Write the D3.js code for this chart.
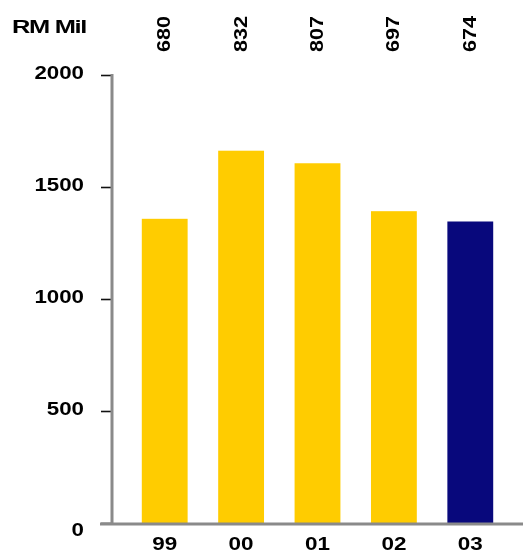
<!DOCTYPE html>
<html>
<head>
<meta charset="utf-8">
<script src="https://cdn.jsdelivr.net/npm/d3@7/dist/d3.min.js"></script>
<style>
  html, body { margin: 0; padding: 0; background: #fff; }
  svg { display: block; }
  text { font-family: "Liberation Sans", Arial, Helvetica, sans-serif; font-weight: bold; fill: #000; }
</style>
</head>
<body>
<svg id="chart" width="523" height="556"></svg>
<script>
// Years on the category axis
const years = ["99", "00", "01", "02", "03"];
// Bar heights (RM Mil)
const revenue = [1358, 1662, 1606, 1392, 1346];
// Figures printed above each bar
const topLabels = ["680", "832", "807", "697", "674"];
// Value-axis ticks
const yTicks = [0, 500, 1000, 1500, 2000];
// Last year is highlighted
const barColors = ["#ffcc00", "#ffcc00", "#ffcc00", "#ffcc00", "#08087c"];

const svg = d3.select("#chart");
const W = 523, H = 556;
const axisX = 112, baseY = 523, topY = 75;

// Soft edge on the lettering
svg.append("defs").append("filter")
  .attr("id", "soft")
  .append("feGaussianBlur")
  .attr("stdDeviation", 0.45);

const x = d3.scaleBand()
  .domain(years)
  .range([axisX, W])
  .paddingInner(0.4)
  .paddingOuter(0.39);

const y = d3.scaleLinear()
  .domain([0, 2000])
  .range([baseY, topY]);

// Bars
svg.append("g")
  .selectAll("rect")
  .data(years)
  .join("rect")
  .attr("x", d => x(d))
  .attr("y", (d, i) => y(revenue[i]))
  .attr("width", x.bandwidth())
  .attr("height", (d, i) => y(0) - y(revenue[i]))
  .attr("fill", (d, i) => barColors[i]);

// Value axis
const yAxis = d3.axisLeft(y)
  .tickValues(yTicks)
  .tickSize(11)
  .tickPadding(0)
  .tickFormat("");
const gy = svg.append("g")
  .attr("transform", `translate(${axisX},0)`)
  .call(yAxis);
gy.select(".domain").remove();
gy.selectAll(".tick line").attr("stroke", "#111").attr("stroke-width", 1.6);

// Grey axis line and baseline
svg.append("line")
  .attr("x1", axisX).attr("x2", axisX)
  .attr("y1", y(2000) - 1).attr("y2", baseY + 1)
  .attr("stroke", "#8a8a8a").attr("stroke-width", 3);
svg.append("line")
  .attr("x1", 100).attr("x2", W)
  .attr("y1", baseY + 1).attr("y2", baseY + 1)
  .attr("stroke", "#8a8a8a").attr("stroke-width", 3);

const labels = svg.append("g").attr("filter", "url(#soft)");

// Tick labels on the value axis
const digitW = 12.4;
labels.append("g")
  .selectAll("text")
  .data(yTicks)
  .join("text")
  .attr("x", 84)
  .attr("y", d => y(d) + (d === 0 ? 7 : -2))
  .attr("dy", "0.35em")
  .attr("text-anchor", "end")
  .attr("font-size", 18.5)
  .attr("textLength", d => String(d).length * digitW)
  .attr("lengthAdjust", "spacingAndGlyphs")
  .text(d => d);

// Unit label
labels.append("text")
  .attr("x", 12)
  .attr("y", 33)
  .attr("font-size", 19)
  .attr("textLength", 74)
  .attr("lengthAdjust", "spacingAndGlyphs")
  .attr("letter-spacing", -1)
  .text("RM Mil");

// Rotated figures above the bars
labels.append("g")
  .selectAll("text")
  .data(years)
  .join("text")
  .attr("transform", d => `translate(${x(d) + x.bandwidth() / 2 - 1},34) rotate(-90)`)
  .attr("text-anchor", "middle")
  .attr("dominant-baseline", "central")
  .attr("font-size", 19)
  .attr("textLength", 36)
  .attr("lengthAdjust", "spacingAndGlyphs")
  .text((d, i) => topLabels[i]);

// Year labels below the baseline
labels.append("g")
  .selectAll("text")
  .data(years)
  .join("text")
  .attr("x", d => x(d) + x.bandwidth() / 2)
  .attr("y", 550)
  .attr("text-anchor", "middle")
  .attr("font-size", 19)
  .attr("textLength", 25)
  .attr("lengthAdjust", "spacingAndGlyphs")
  .text(d => d);
</script>
</body>
</html>
